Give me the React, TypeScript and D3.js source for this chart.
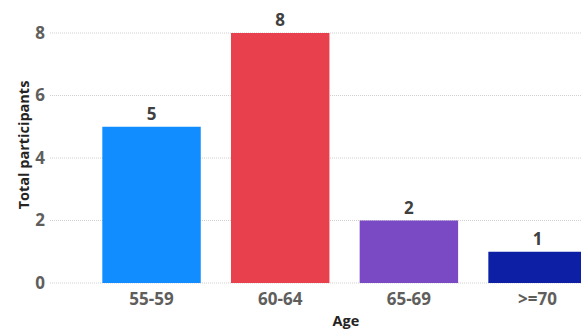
import React from "react";
import * as d3 from "d3";

const categories = ["55-59", "60-64", "65-69", ">=70"];
const values = [5, 8, 2, 1];
const colors = ["#118DFF", "#E8404C", "#7A4AC4", "#0D1FA5"];
const yTicks = [0, 2, 4, 6, 8];

export default function App() {
  const W = 581, H = 334;
  const x = d3.scaleBand<string>().domain(categories).range([87.2, 601.9]).paddingInner(0.235).paddingOuter(0.1175);
  const y = d3.scaleLinear().domain([0, 8]).range([283, 33]);
  const font = "'Open Sans', 'Noto Sans', sans-serif";
  return (
    <svg width={W} height={H} style={{ position: "absolute", left: 0, top: 0, background: "#fff" }} fontFamily={font}>
      {yTicks.map((t) => (
        <g key={t}>
          <line x1={50} x2={W} y1={y(t)} y2={y(t)} stroke="#D0D0D0" strokeWidth={1} strokeDasharray="1,1" />
          <text x={45} y={y(t)} dy="0.35em" textAnchor="end" fontSize={17} fontWeight={700} fill="#605E5C">{t}</text>
        </g>
      ))}
      {categories.map((c, i) => (
        <g key={c}>
          <rect x={x(c)} y={y(values[i])} width={x.bandwidth()} height={y(0) - y(values[i])} fill={colors[i]} />
          <text x={x(c)! + x.bandwidth() / 2} y={y(values[i]) - 7} textAnchor="middle" fontSize={17} fontWeight={700} fill="#404040">{values[i]}</text>
          <text x={x(c)! + x.bandwidth() / 2} y={305} textAnchor="middle" fontSize={17} fontWeight={700} fill="#605E5C">{c}</text>
        </g>
      ))}
      <text transform={`translate(29,${145}) rotate(-90)`} textAnchor="middle" fontSize={14.5} fontWeight={700} fill="#252423">Total participants</text>
      <text x={346} y={326} textAnchor="middle" fontSize={14.5} fontWeight={700} fill="#252423">Age</text>
    </svg>
  );
}
